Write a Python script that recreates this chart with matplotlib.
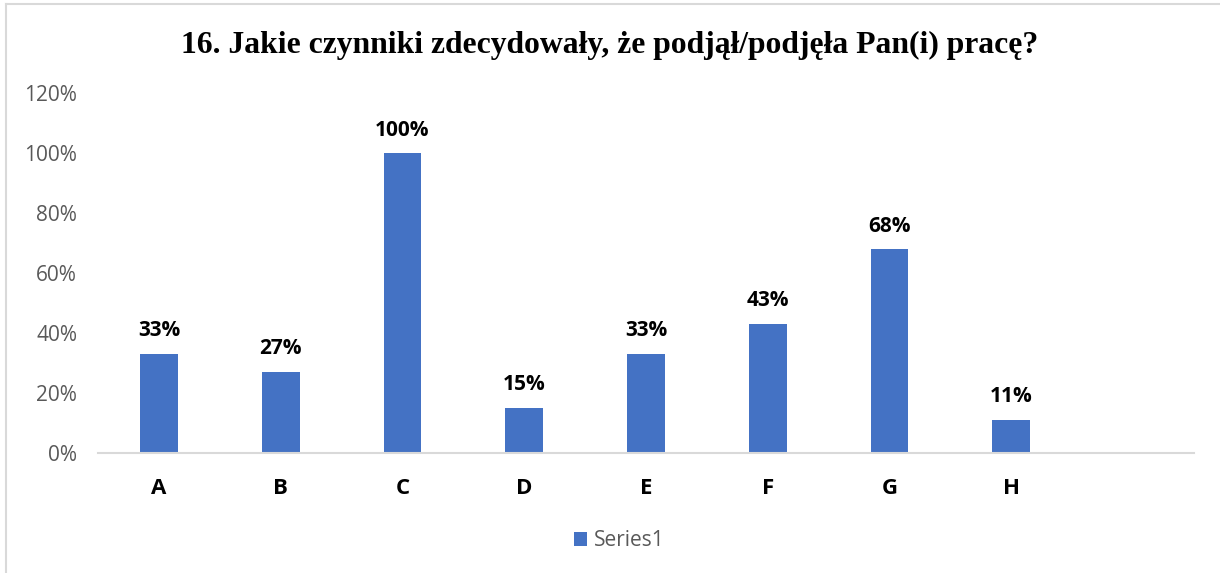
import numpy as np
import matplotlib.pyplot as plt
from matplotlib.patches import Patch
from matplotlib.lines import Line2D

categories = ["A", "B", "C", "D", "E", "F", "G", "H", ""]
values = [33, 27, 100, 15, 33, 43, 68, 11, np.nan]
yticks = [0, 20, 40, 60, 80, 100, 120]
title = "16. Jakie czynniki zdecydowały, że podjął/podjęła Pan(i) pracę?"

bar_color = "#4472C4"
gray = "#595959"
sans = ["Open Sans", "DejaVu Sans"]

fig = plt.figure(figsize=(12.2, 5.73), dpi=100)
ax = fig.add_axes([98 / 1220, 1 - 453 / 573, (1194 - 98) / 1220, (453 - 93) / 573])

x = np.arange(len(categories))
bars = ax.bar(x, values, width=0.31, color=bar_color, zorder=2)

for xi, v in zip(x, values):
    if np.isnan(v):
        continue
    ax.annotate(f"{v:.0f}%", (xi, v), xytext=(0, 9), textcoords="offset points",
                ha="center", va="bottom", fontsize=15, fontweight="bold",
                family=sans, color="black")

ax.set_xlim(-0.5, len(categories) - 0.5)
ax.set_ylim(0, 120)
ax.set_yticks(yticks)
ax.set_yticklabels([f"{t}%" for t in yticks], family=sans, fontsize=15, color=gray)
ax.set_xticks(x)
ax.set_xticklabels(categories, family=sans, fontsize=16, fontweight="bold", color="black")
ax.tick_params(axis="both", length=0)
ax.tick_params(axis="y", pad=15)
ax.tick_params(axis="x", pad=18)

for s in ["top", "right", "left"]:
    ax.spines[s].set_visible(False)
ax.spines["bottom"].set_color("#D9D9D9")
ax.spines["bottom"].set_linewidth(1.5)
ax.spines["bottom"].set_zorder(3)

fig.text(0.5, 1 - 45 / 573, title, ha="center", va="center",
         family="Liberation Serif", fontweight="bold", fontsize=22.8)

# legend
handle = Patch(facecolor=bar_color, edgecolor="none")
leg = fig.legend([handle], ["Series1"], loc="center", bbox_to_anchor=(0.5 + 9 / 1220, 1 - 541 / 573),
                 frameon=False, prop={"family": sans, "size": 15},
                 handlelength=0.65, handleheight=0.65, handletextpad=0.3)
for t in leg.get_texts():
    t.set_color(gray)

# chart area border (top and left only visible in the reference)
fig.add_artist(Line2D([6 / 1220, 1], [1 - 4 / 573, 1 - 4 / 573], color="#D9D9D9", lw=1.5,
                      transform=fig.transFigure))
fig.add_artist(Line2D([6 / 1220, 6 / 1220], [0, 1 - 4 / 573], color="#D9D9D9", lw=1.5,
                      transform=fig.transFigure))

fig.savefig("out.png", dpi=100, facecolor="white")
